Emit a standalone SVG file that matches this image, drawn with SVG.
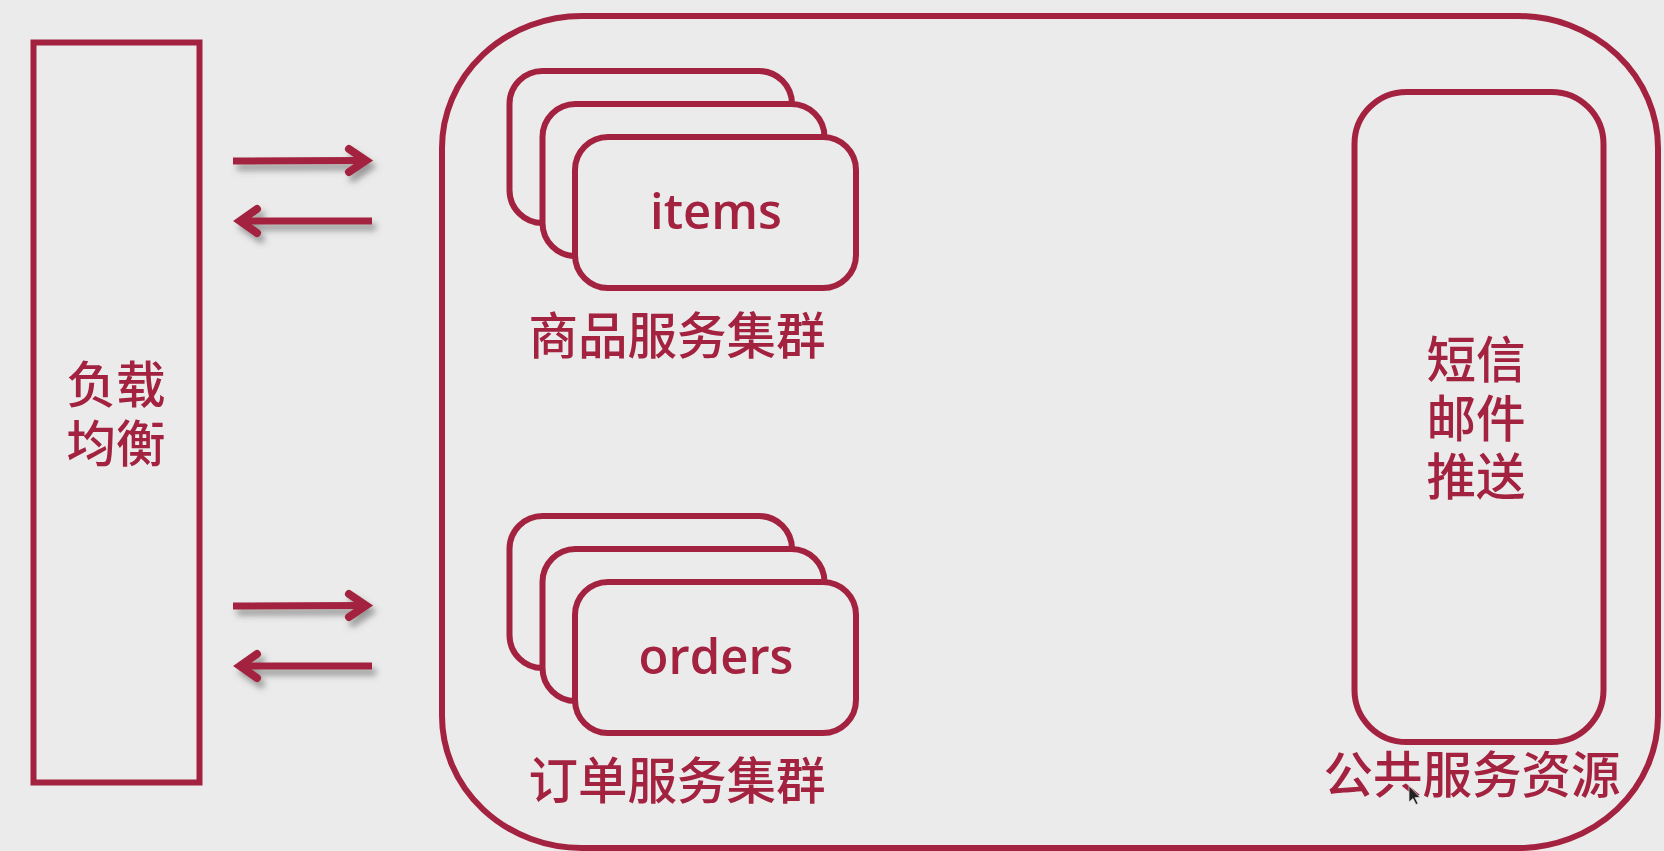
<svg xmlns="http://www.w3.org/2000/svg" width="1664" height="851" viewBox="0 0 1664 851">
<style>
.b{fill:none;stroke:#a3223f;stroke-width:6}
.f{fill:#ebebec;stroke:#a3223f;stroke-width:6}
text{fill:#a3223f;font-family:"Noto Sans CJK SC","Noto Sans",sans-serif;font-size:49.500px;font-weight:500;text-anchor:middle}
.l{font-family:"Open Sans","Noto Sans",sans-serif;font-size:49px;font-weight:600}
.a{fill:none;stroke:#a3223f;stroke-width:7;stroke-linecap:butt;stroke-linejoin:miter}
.h{stroke-linecap:round;stroke-width:8}
</style>
<defs>
<filter id="s" x="-20%" y="-50%" width="140%" height="220%"><feDropShadow dx="4" dy="6" stdDeviation="3" flood-color="#555" flood-opacity=".55"/></filter>
</defs>
<rect width="1664" height="851" fill="#ebebec"/>
<g id="load-balancer">
<rect class="b" x="33.500" y="42.500" width="166" height="740"/>
<text x="116" y="403">负载<tspan x="116" dy="59">均衡</tspan></text>
</g>
<g id="service-area">
<rect class="b" x="442" y="16" width="1216" height="832" rx="140" ry="132"/>
</g>
<g id="items-cluster">
<rect class="f" x="509.500" y="71" width="282.500" height="152" rx="33"/>
<rect class="f" x="542.500" y="104" width="282" height="152" rx="33"/>
<rect class="f" x="575" y="137" width="281" height="151" rx="33"/>
<text class="l" x="716" y="229">items</text>
<text x="677" y="354">商品服务集群</text>
</g>
<g id="orders-cluster">
<rect class="f" x="509.500" y="516" width="282.500" height="152" rx="33"/>
<rect class="f" x="542.500" y="549" width="282" height="152" rx="33"/>
<rect class="f" x="575" y="582" width="281" height="151" rx="33"/>
<text class="l" x="716" y="674">orders</text>
<text x="677" y="799">订单服务集群</text>
</g>
<g id="public-services">
<rect class="b" x="1354.500" y="92" width="249" height="650" rx="52"/>
<text x="1476" y="378">短信<tspan x="1476" dy="59">邮件</tspan><tspan x="1476" dy="58">推送</tspan></text>
<text x="1472" y="793">公共服务资源</text>
</g>
<g id="connectors">
<g filter="url(#s)">
<path class="a" d="M233 161L363 160.500"/><path class="a h" d="M349 149L366 160.500L349 172"/>
</g>
<g filter="url(#s)">
<path class="a" d="M372 221L243 221"/><path class="a h" d="M257 209L240 221L257 233"/>
</g>
<g filter="url(#s)">
<path class="a" d="M233 606L363 605.500"/><path class="a h" d="M349 594L366 605.500L349 617"/>
</g>
<g filter="url(#s)">
<path class="a" d="M372 666L243 666"/><path class="a h" d="M257 654L240 666L257 678"/>
</g>
</g>
<path d="M1409 786v16l4-3.500 3 6 2-1-3-6h5z" fill="#222" stroke="#ddd" stroke-width=".7"/>
</svg>
